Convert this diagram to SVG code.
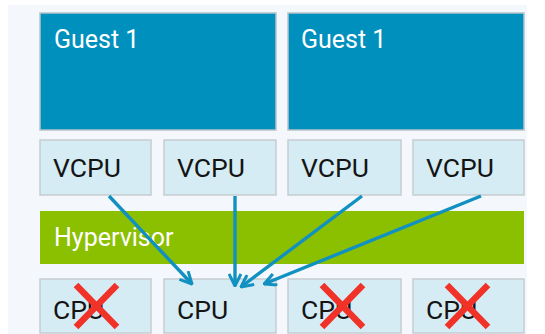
<svg xmlns="http://www.w3.org/2000/svg" width="545" height="334" viewBox="0 0 545 334">
  <defs>
    <style>
      .guest { fill: #0090be; stroke: #b8c2c8; stroke-width: 1.5; }
      .cell { fill: #d5ecf4; stroke: #c6ccd0; stroke-width: 1.5; }
      .hyp { fill: #8bc000; }
      .lbl { font-family: Roboto, "Liberation Sans", sans-serif; }
      .white { fill: #ffffff; font-size: 25px; }
      .dark { fill: #141414; font-size: 26.5px; }
      .link { fill: none; stroke: #1191c1; stroke-width: 3.4; marker-end: url(#head); }
      .cross { stroke: #f03228; stroke-width: 6.5; stroke-linecap: butt; }
    </style>
    <marker id="head" viewBox="0 0 14 14" refX="13" refY="7" markerWidth="14" markerHeight="14" markerUnits="userSpaceOnUse" orient="auto">
      <path d="M1,1 L13,7 L1,13" fill="none" stroke="#1191c1" stroke-width="3"/>
    </marker>
  </defs>

  <!-- backdrop -->
  <rect x="8" y="5" width="519" height="329" fill="#f4f8fc"/>

  <!-- guests -->
  <g id="guest-a">
    <rect class="guest" x="40" y="13" width="236" height="117"/>
    <text class="lbl white" x="54" y="48">Guest 1</text>
  </g>
  <g id="guest-b">
    <rect class="guest" x="288" y="13" width="236" height="117"/>
    <text class="lbl white" x="301" y="48">Guest 1</text>
  </g>

  <!-- virtual CPUs -->
  <g id="vcpu-1">
    <rect class="cell" x="40" y="140" width="111" height="55"/>
    <text class="lbl dark" x="53" y="177">VCPU</text>
  </g>
  <g id="vcpu-2">
    <rect class="cell" x="164" y="140" width="112" height="55"/>
    <text class="lbl dark" x="177" y="177">VCPU</text>
  </g>
  <g id="vcpu-3">
    <rect class="cell" x="288" y="140" width="113" height="55"/>
    <text class="lbl dark" x="301" y="177">VCPU</text>
  </g>
  <g id="vcpu-4">
    <rect class="cell" x="413" y="140" width="111" height="55"/>
    <text class="lbl dark" x="426" y="177">VCPU</text>
  </g>

  <!-- hypervisor -->
  <g id="hypervisor">
    <rect class="hyp" x="40" y="211" width="484" height="53"/>
    <text class="lbl white" x="54" y="246">Hypervisor</text>
  </g>

  <!-- physical CPUs -->
  <g id="cpu-1">
    <rect class="cell" x="40" y="279" width="111" height="54"/>
    <text class="lbl dark" x="53" y="319">CPU</text>
    <path class="cross" d="M76,285 L117,327 M117,285 L76,327"/>
  </g>
  <g id="cpu-2">
    <rect class="cell" x="164" y="279" width="112" height="54"/>
    <text class="lbl dark" x="177" y="319">CPU</text>
  </g>
  <g id="cpu-3">
    <rect class="cell" x="288" y="279" width="113" height="54"/>
    <text class="lbl dark" x="301" y="319">CPU</text>
    <path class="cross" d="M322,285 L363,327 M363,285 L322,327"/>
  </g>
  <g id="cpu-4">
    <rect class="cell" x="413" y="279" width="111" height="54"/>
    <text class="lbl dark" x="426" y="319">CPU</text>
    <path class="cross" d="M447,285 L488,327 M488,285 L447,327"/>
  </g>

  <!-- connectors: every VCPU scheduled onto the one live CPU -->
  <g id="connectors">
    <line class="link" x1="109" y1="196" x2="192" y2="284"/>
    <line class="link" x1="235" y1="196" x2="235" y2="286"/>
    <line class="link" x1="362" y1="196" x2="241" y2="287"/>
    <line class="link" x1="481" y1="196" x2="264" y2="284"/>
  </g>
</svg>
